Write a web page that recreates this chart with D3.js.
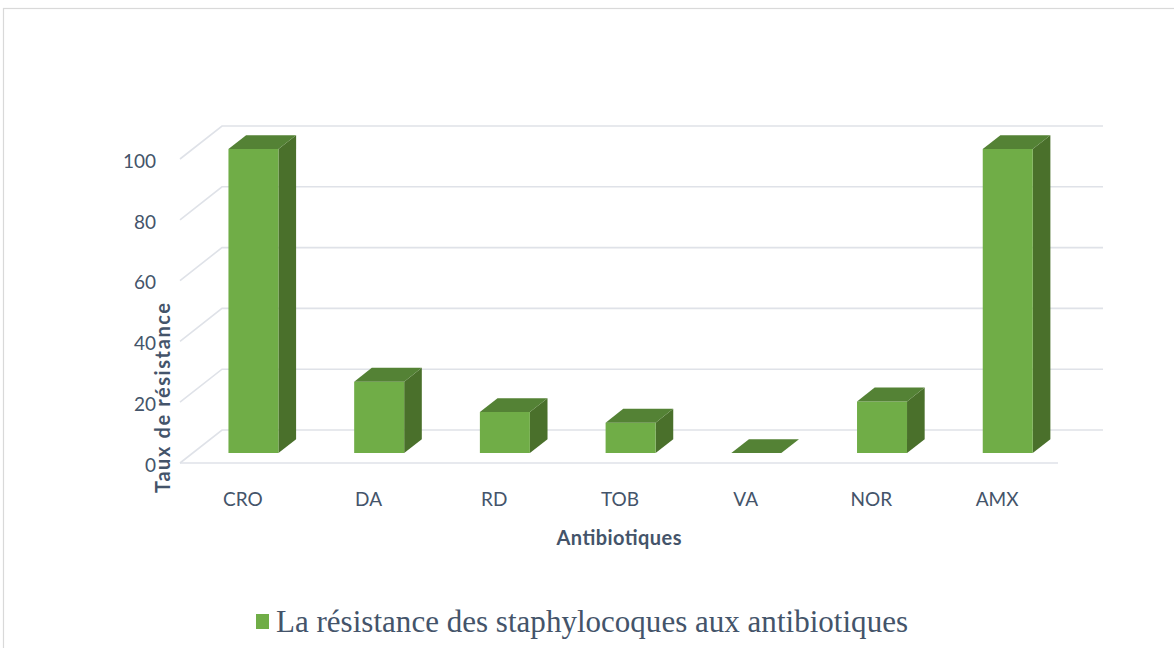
<!DOCTYPE html>
<html>
<head>
<meta charset="utf-8">
<script src="https://cdn.jsdelivr.net/npm/d3@7"></script>
<style>
  body { margin: 0; background: #fff; }
  svg { display: block; }
</style>
</head>
<body>
<div id="chart"></div>
<script>
// donnees
const categories = ["CRO", "DA", "RD", "TOB", "VA", "NOR", "AMX"];
const values = [100, 23.5, 13.5, 10, 0, 17, 100];
const yTicks = [0, 20, 40, 60, 80, 100];
const seriesName = "La résistance des staphylocoques aux antibiotiques";

const width = 1174, height = 648;
const textColor = "#44546a";
const gridColor = "#dfe2e8";

const svg = d3.select("#chart").append("svg")
    .attr("width", width)
    .attr("height", height);

// cadre du graphique
svg.append("rect")
    .attr("x", 3.5).attr("y", 8.5)
    .attr("width", width + 10).attr("height", height + 10)
    .attr("fill", "none")
    .attr("stroke", "#d9d9d9")
    .attr("stroke-width", 1.2);

// plan avant : x et y
const x = d3.scaleBand().domain(categories).range([180, 1060]);
const y = d3.scaleLinear().domain([0, 100]).range([463, 159]);

// profondeur (z = 0 devant, z = 1 au fond)
const depthX = 42, depthY = -33;
const proj = (px, v, z) => [px + z * depthX, y(v) + z * depthY];

const grid = svg.append("g");
const x0 = 180, x1 = 1061;

// quadrillage : paroi gauche + paroi du fond
yTicks.forEach(t => {
    const a = proj(x0, t, 0), b = proj(x0, t, 1), c = proj(x1, t, 1);
    grid.append("polyline")
        .attr("points", [a, b, c].map(p => p.join(",")).join(" "))
        .attr("fill", "none")
        .attr("stroke", gridColor)
        .attr("stroke-width", 1.6);
});
// bord avant du sol
grid.append("line")
    .attr("x1", proj(x0, 0, 0)[0]).attr("y1", proj(x0, 0, 0)[1])
    .attr("x2", proj(x1 - 3, 0, 0)[0]).attr("y2", proj(x1 - 3, 0, 0)[1])
    .attr("stroke", gridColor)
    .attr("stroke-width", 1.6);

// barres 3D
const zFront = 0.3, zBack = 0.72;
const barW = 50, shift = -2;
const bars = svg.append("g");
const pts = arr => arr.map(p => p.join(",")).join(" ");

categories.forEach((c, i) => {
    const v = values[i];
    const l = x(c) + x.bandwidth() / 2 - barW / 2 + shift;
    const r = l + barW;
    const flt = proj(l, v, zFront), frt = proj(r, v, zFront);
    const flb = proj(l, 0, zFront), frb = proj(r, 0, zFront);
    const blt = proj(l, v, zBack), brt = proj(r, v, zBack), brb = proj(r, 0, zBack);

    if (v > 0) {
        // face laterale
        bars.append("polygon")
            .attr("points", pts([frt, brt, brb, frb]))
            .attr("fill", "#4a702b");
        // face avant
        bars.append("polygon")
            .attr("points", pts([flt, frt, frb, flb]))
            .attr("fill", "#70ad47");
    }
    // dessus
    bars.append("polygon")
        .attr("points", pts([flt, frt, brt, blt]))
        .attr("fill", "#548235");
});

// etiquettes de l'axe Y
svg.append("g").selectAll("text")
    .data(yTicks)
    .enter().append("text")
    .attr("x", 156)
    .attr("y", d => y(d) + 4)
    .attr("text-anchor", "end")
    .attr("dominant-baseline", "middle")
    .attr("font-family", "Lato, 'Open Sans', sans-serif")
    .attr("font-size", 19)
    .attr("fill", textColor)
    .text(d => d);

// etiquettes de l'axe X
svg.append("g").selectAll("text")
    .data(categories)
    .enter().append("text")
    .attr("x", d => x(d) + x.bandwidth() / 2)
    .attr("y", 501)
    .attr("text-anchor", "middle")
    .attr("dominant-baseline", "middle")
    .attr("font-family", "Lato, 'Open Sans', sans-serif")
    .attr("font-size", 19)
    .attr("fill", textColor)
    .text(d => d);

// titres des axes
svg.append("text")
    .attr("x", 619).attr("y", 540)
    .attr("text-anchor", "middle")
    .attr("dominant-baseline", "middle")
    .attr("font-family", "Lato, 'Open Sans', sans-serif")
    .attr("font-weight", "bold")
    .attr("font-size", 20)
    .attr("textLength", 125)
    .attr("fill", textColor)
    .text("Antibiotiques");

svg.append("text")
    .attr("transform", "translate(165,398) rotate(-90)")
    .attr("text-anchor", "middle")
    .attr("dominant-baseline", "middle")
    .attr("font-family", "Lato, 'Open Sans', sans-serif")
    .attr("font-weight", "bold")
    .attr("font-size", 20)
    .attr("textLength", 190)
    .attr("fill", textColor)
    .text("Taux de résistance");

// legende
const legend = svg.append("g");
legend.append("rect")
    .attr("x", 256).attr("y", 614)
    .attr("width", 13).attr("height", 15)
    .attr("fill", "#70ad47");
legend.append("text")
    .attr("x", 276).attr("y", 632)
    .attr("font-family", "'Liberation Serif', 'Times New Roman', serif")
    .attr("font-size", 31)
    .attr("textLength", 632)
    .attr("fill", textColor)
    .text(seriesName);
</script>
</body>
</html>
